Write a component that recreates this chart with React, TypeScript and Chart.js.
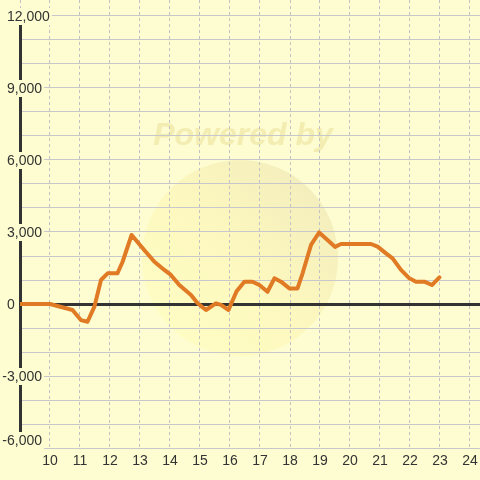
import React, { useEffect, useRef } from "react";
import { Chart, registerables } from "chart.js";

Chart.register(...registerables);

// ---- data ----
const xValues = [
  9, 10, 10.75, 11.03, 11.25, 11.48, 11.7, 11.92, 12.25, 12.42, 12.72, 13.14, 13.48, 13.81,
  14.03, 14.31, 14.7, 14.92, 15.2, 15.53, 15.7, 15.95, 16.22, 16.48, 16.75, 16.98, 17.25,
  17.48, 17.7, 17.98, 18.25, 18.42, 18.7, 18.97, 19.25, 19.5, 19.7, 20.7, 20.92, 21.2, 21.42,
  21.7, 21.98, 22.2, 22.48, 22.73, 22.98,
];
const yValues = [
  0, 0, -250, -670, -740, -110, 1000, 1280, 1280, 1760, 2875, 2250, 1760, 1420,
  1210, 790, 375, 30, -250, 30, -40, -250, 530, 930, 930, 790, 510,
  1070, 930, 650, 650, 1280, 2460, 2980, 2670, 2380, 2500, 2500, 2390, 2110, 1900,
  1420, 1070, 930, 930, 790, 1110,
];
const yLabelValues = [-6000, -3000, 0, 3000, 6000, 9000, 12000];
const xLabelValues = [10, 11, 12, 13, 14, 15, 16, 17, 18, 19, 20, 21, 22, 23, 24];
const yGridStep = 1000;
const yMin = -6000;
const yTop = 12000;
const xMin = 9;

const BG = "#fdfdd1";
const TEXT = "#333333";
const FONT = '14px "Liberation Sans", Arial, sans-serif';

const backgroundPlugin = {
  id: "bgWatermark",
  beforeDraw(chart: any) {
    const ctx = chart.ctx as CanvasRenderingContext2D;
    ctx.save();
    ctx.fillStyle = BG;
    ctx.fillRect(0, 0, chart.width, chart.height);
    // faint watermark
    const cx = 240, cy = 258, r = 98;
    const g = ctx.createLinearGradient(cx + r * 0.7, cy - r * 0.7, cx - r * 0.7, cy + r * 0.7);
    g.addColorStop(0, "rgba(240,232,180,0.7)");
    g.addColorStop(0.5, "rgba(252,244,178,0.6)");
    g.addColorStop(1, "rgba(255,252,180,0.5)");
    ctx.beginPath();
    ctx.arc(cx, cy, r, 0, Math.PI * 2);
    ctx.fillStyle = g;
    ctx.fill();
    ctx.font = 'italic bold 32px "Liberation Sans", Arial, sans-serif';
    ctx.fillStyle = "rgba(240,230,165,0.7)";
    ctx.textAlign = "center";
    ctx.textBaseline = "alphabetic";
    ctx.fillText("Powered by", 243, 145);
    ctx.restore();
  },
};

const axisPlugin = {
  id: "axisLabels",
  beforeDatasetsDraw(chart: any) {
    const ctx = chart.ctx as CanvasRenderingContext2D;
    const { chartArea, scales } = chart;
    const ys = scales.y;
    const xs = scales.x;
    ctx.save();
    ctx.strokeStyle = TEXT;
    // zero line
    const y0 = ys.getPixelForValue(0) + 0.5;
    ctx.lineWidth = 3;
    ctx.beginPath();
    ctx.moveTo(chartArea.left, y0);
    ctx.lineTo(chartArea.right, y0);
    ctx.stroke();
    // y axis line
    const ax = chartArea.left + 0.5;
    ctx.beginPath();
    ctx.moveTo(ax, ys.getPixelForValue(yTop));
    ctx.lineTo(ax, chartArea.bottom);
    ctx.stroke();
    // y labels with backdrop
    ctx.font = FONT;
    ctx.textBaseline = "middle";
    ctx.textAlign = "left";
    for (const v of yLabelValues) {
      const text = v.toLocaleString("en-US");
      let py = ys.getPixelForValue(v) + 1;
      if (py > chartArea.bottom - 8) py = chartArea.bottom - 7;
      let tx = 7;
      if (v < 0) tx -= ctx.measureText("-").width;
      const w = ctx.measureText(text).width;
      ctx.fillStyle = BG;
      ctx.fillRect(tx - 2, py - 9, w + 4, 17);
      ctx.fillStyle = TEXT;
      ctx.fillText(text, tx, py);
    }
    // x labels
    ctx.textAlign = "center";
    for (const v of xLabelValues) {
      ctx.fillText(String(v), xs.getPixelForValue(v), chartArea.bottom + 13);
    }
    ctx.restore();
  },
};

export default function App() {
  const ref = useRef<HTMLCanvasElement | null>(null);
  useEffect(() => {
    if (!ref.current) return;
    const left = 20;
    const width = 480 - left;
    const xMax = xMin + width / 30;
    const plotH = 448;
    const pxPer = (yTop - yMin) / (plotH - 16);
    const yMax = yTop + 16 * pxPer;
    const chart = new Chart(ref.current, {
      type: "line",
      data: {
        datasets: [
          {
            data: xValues.map((x, i) => ({ x, y: yValues[i] })),
            borderColor: "#e07a24",
            borderWidth: 4,
            pointRadius: 0,
            tension: 0,
            borderJoinStyle: "round",
            borderCapStyle: "round",
            fill: false,
          },
        ],
      },
      plugins: [backgroundPlugin, axisPlugin],
      options: {
        responsive: false,
        animation: false,
        devicePixelRatio: 1,
        layout: { padding: { left, right: 0, top: 0, bottom: 480 - plotH } },
        plugins: { legend: { display: false }, tooltip: { enabled: false } },
        scales: {
          x: {
            type: "linear",
            min: xMin,
            max: xMax,
            afterBuildTicks: (s: any) => {
              const t = [];
              for (let v = xMin; v <= xMax; v += 1) t.push({ value: v });
              s.ticks = t;
            },
            ticks: { display: false },
            grid: { color: "#c2c2c2", lineWidth: 1, drawTicks: false },
            border: { display: false, dash: [3, 3] },
          },
          y: {
            type: "linear",
            min: yMin,
            max: yMax,
            afterBuildTicks: (s: any) => {
              const t = [];
              for (let v = yMin; v <= yTop; v += yGridStep) t.push({ value: v });
              s.ticks = t;
            },
            ticks: { display: false },
            grid: {
              drawTicks: false,
              lineWidth: 1,
              color: (c: any) => (c.tick && c.tick.value === 0 ? "rgba(0,0,0,0)" : "#c8c8cc"),
            },
            border: { display: false },
          },
        },
      } as any,
    });
    return () => chart.destroy();
  }, []);
  return (
    <div style={{ position: "fixed", left: 0, top: 0, width: 480, height: 480 }}>
      <canvas ref={ref} width={480} height={480} />
    </div>
  );
}
